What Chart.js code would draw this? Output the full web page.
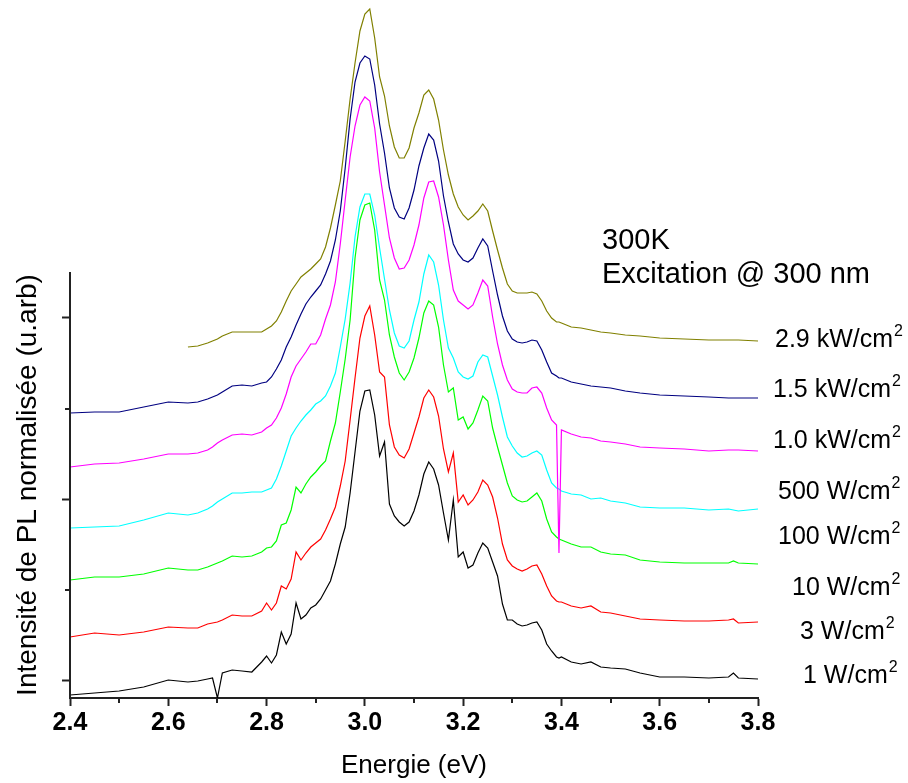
<!DOCTYPE html>
<html>
<head>
<meta charset="utf-8">
<title>PL spectra</title>
<script src="https://cdn.jsdelivr.net/npm/chart.js@4.4.1/dist/chart.umd.min.js"></script>
<style>
  html, body { margin: 0; padding: 0; background: #fff; }
  #wrap { width: 908px; height: 783px; }
</style>
</head>
<body>
<div id="wrap"><canvas id="plChart" width="908" height="783"></canvas></div>
<script>
// photon energy (eV), shared by every spectrum
const energy = [
  2.40, 2.45, 2.50, 2.55, 2.60, 2.64, 2.66, 2.68, 2.69, 2.70, 2.71, 2.73, 2.75, 2.77, 2.79,
  2.80, 2.81, 2.82, 2.83, 2.84, 2.85, 2.86, 2.87, 2.88, 2.89,
  2.90, 2.91, 2.92, 2.93, 2.94, 2.95, 2.96, 2.97, 2.98, 2.99,
  3.00, 3.01, 3.02, 3.03, 3.04, 3.05, 3.06, 3.07, 3.08, 3.09,
  3.10, 3.11, 3.12, 3.13, 3.14, 3.15, 3.16, 3.17, 3.18, 3.19,
  3.20, 3.21, 3.22, 3.23, 3.24, 3.25, 3.26, 3.27, 3.28, 3.29,
  3.30, 3.31, 3.32, 3.33, 3.34, 3.35, 3.36, 3.37, 3.38, 3.39,
  3.395, 3.40, 3.42, 3.44, 3.46, 3.48, 3.50, 3.53, 3.56, 3.60, 3.65, 3.70, 3.74, 3.75, 3.76, 3.80, 3.81
];

// normalised PL intensity (u.arb), curves stacked with their offsets
const pl1W = [
  3, 5, 7, 11, 18, 16, 17, 19, 20, 0, 25, 28, 27, 26, 36,
  42, 35, 43, 66, 54, 64, 95, 79, 83, 90,
  93, 99, 108, 117, 134, 154, 171, 205, 246, 287,
  307, 308, 283, 242, 256, 194, 182, 176, 172, 176,
  187, 203, 224, 236, 229, 213, 185, 158, 198, 141,
  146, 130, 133, 145, 155, 150, 136, 122, 94, 78,
  78, 74, 72, 73, 75, 76, 68, 54, 47, 41,
  40, 41, 36, 34, 36, 31, 30, 29, 25, 21, 21, 20, 21, 25, 20, 19, 19
];
const pl3W = [
  61, 65, 63, 66, 71, 70, 70, 74, 75, 76, 78, 83, 82, 82, 87,
  95, 88, 95, 112, 109, 119, 146, 138, 145, 151,
  155, 159, 168, 179, 191, 212, 237, 278, 320, 360,
  382, 392, 363, 326, 321, 273, 251, 243, 240, 249,
  265, 281, 300, 308, 301, 282, 249, 226, 245, 196,
  203, 193, 198, 206, 218, 213, 201, 180, 154, 138,
  132, 129, 127, 129, 132, 133, 124, 112, 102, 97,
  96, 96, 92, 90, 92, 86, 85, 82, 79, 78, 77, 77, 78, 79, 75, 76, 76
];
const pl10W = [
  118, 121, 121, 124, 130, 128, 128, 131, 133, 135, 137, 142, 141, 142, 146,
  150, 151, 157, 173, 175, 188, 211, 205, 214, 221,
  226, 232, 237, 257, 275, 306, 339, 378, 440, 478,
  493, 495, 468, 418, 398, 363, 341, 325, 318, 326,
  340, 360, 385, 397, 393, 371, 333, 306, 310, 278,
  281, 269, 275, 288, 302, 297, 270, 251, 233, 215,
  202, 198, 196, 197, 201, 205, 197, 179, 166, 161,
  159, 158, 154, 151, 151, 146, 144, 143, 138, 136, 135, 135, 135, 137, 135, 134, 134
];
const pl500W = [
  170, 171, 172, 178, 185, 183, 185, 189, 192, 196, 199, 205, 205, 206, 206,
  208, 210, 219, 232, 247, 262, 270, 277, 283, 288,
  294, 297, 302, 312, 325, 351, 379, 415, 461, 491,
  504, 504, 483, 450, 419, 388, 365, 352, 350, 357,
  378, 396, 424, 443, 436, 413, 378, 350, 340, 326,
  321, 319, 322, 336, 343, 341, 322, 303, 281, 261,
  252, 245, 241, 242, 245, 247, 243, 228, 215, 210,
  209, 207, 204, 203, 199, 200, 197, 195, 191, 190, 190, 188, 189, 188, 187, 189, 189
];
const pl1kW = [
  231, 234, 235, 239, 244, 244, 245, 248, 251, 255, 258, 263, 264, 263, 266,
  270, 273, 280, 290, 304, 321, 332, 339, 346, 354,
  354, 363, 379, 393, 416, 454, 498, 541, 572, 593,
  601, 597, 570, 526, 493, 460, 440, 429, 430, 438,
  453, 473, 500, 516, 517, 501, 473, 438, 408, 397,
  393, 389, 393, 405, 418, 412, 381, 354, 333, 318,
  309, 306, 305, 305, 310, 311, 305, 290, 278, 273,
  145, 268, 264, 261, 260, 257, 256, 254, 251, 250, 249, 247, 248, 248, 248, 247, 247
];
const pl1500W = [
  285, 286, 286, 291, 296, 295, 296, 299, 301, 303, 306, 312, 313, 312, 315,
  316, 321, 329, 338, 351, 361, 373, 384, 394, 401,
  407, 413, 424, 437, 458, 487, 530, 579, 616, 635,
  642, 639, 613, 574, 545, 510, 490, 481, 479, 490,
  508, 532, 550, 564, 558, 537, 502, 476, 454, 444,
  438, 436, 440, 450, 459, 452, 427, 403, 382, 367,
  359, 356, 355, 356, 358, 357, 348, 336, 325, 322,
  320, 320, 316, 314, 312, 311, 310, 307, 305, 303, 302, 301, 300, 300, 300, 300, 300
];
const pl2900W = [
  null, null, null, null, null, 351, 352, 355, 357, 359, 362, 366, 366, 366, 366,
  369, 372, 377, 386, 397, 407, 414, 421, 425, 429,
  434, 439, 451, 470, 493, 517, 557, 599, 635, 667,
  684, 689, 660, 621, 602, 572, 551, 540, 540, 550,
  570, 585, 603, 608, 599, 578, 548, 523, 504, 491,
  483, 478, 482, 487, 494, 487, 467, 448, 430, 414,
  407, 405, 405, 405, 406, 404, 397, 387, 380, 376,
  376, 375, 371, 370, 368, 366, 365, 363, 362, 360, 359, 358, 358, 358, 358, 357, null
];

const xMajorTicks = [2.4, 2.6, 2.8, 3.0, 3.2, 3.4, 3.6, 3.8];
const xMinorTicks = [2.5, 2.7, 2.9, 3.1, 3.3, 3.5, 3.7];
const yMajorTicks = [18, 199, 380];
const yMinorTicks = [108.5, 289.5];
const yAxisTop = 426;

const powerLabels = ['2.9 kW/cm', '1.5 kW/cm', '1.0 kW/cm', '500 W/cm', '100 W/cm', '10 W/cm', '3 W/cm', '1 W/cm'];
const noteLines = ['300K', 'Excitation @ 300 nm'];
const yTitle = 'Intensité de PL normalisée (u.arb)';

const FONT = '"Liberation Sans", Arial, sans-serif';

// label anchors (left x, baseline y) in canvas pixels
const powerLabelPos = [[775, 347], [773, 397], [773, 448], [778, 499], [778, 544], [792, 595], [800, 639], [803, 683]];
const notePos = [[602, 249], [602, 283]];

function series(values) {
  return energy.map((e, i) => ({ x: e, y: values[i] })).filter(p => p.y !== null);
}

const curves = [
  { label: '2.9 kW/cm²', values: pl2900W, color: '#808000' },
  { label: '1.5 kW/cm²', values: pl1500W, color: '#000080' },
  { label: '1.0 kW/cm²', values: pl1kW, color: '#ff00ff' },
  { label: '500 W/cm²', values: pl500W, color: '#00ffff' },
  { label: '10 W/cm²', values: pl10W, color: '#00ff00' },
  { label: '3 W/cm²', values: pl3W, color: '#ff0000' },
  { label: '1 W/cm²', values: pl1W, color: '#000000' }
];

const decorations = {
  id: 'decorations',
  afterDraw(chart) {
    const ctx = chart.ctx;
    const x = chart.scales.x, y = chart.scales.y;
    ctx.save();
    ctx.strokeStyle = '#222';
    ctx.lineWidth = 2;
    // left axis line, only over the lower part
    const ax = x.left;
    ctx.beginPath();
    ctx.moveTo(ax, y.getPixelForValue(0) + 1);
    ctx.lineTo(ax, y.getPixelForValue(yAxisTop));
    ctx.stroke();
    // minor ticks
    ctx.beginPath();
    xMinorTicks.forEach(v => {
      const px = Math.round(x.getPixelForValue(v));
      ctx.moveTo(px, y.bottom);
      ctx.lineTo(px, y.bottom + 5);
    });
    yMinorTicks.forEach(v => {
      const py = Math.round(y.getPixelForValue(v));
      ctx.moveTo(ax, py);
      ctx.lineTo(ax - 5, py);
    });
    ctx.stroke();

    ctx.fillStyle = '#000';
    // y title
    ctx.save();
    ctx.translate(36, 485);
    ctx.rotate(-Math.PI / 2);
    ctx.textAlign = 'center';
    ctx.textBaseline = 'alphabetic';
    ctx.font = '28px ' + FONT;
    ctx.fillText(yTitle, 0, 0);
    ctx.restore();

    ctx.textAlign = 'left';
    ctx.textBaseline = 'alphabetic';
    ctx.font = '29px ' + FONT;
    noteLines.forEach((t, i) => ctx.fillText(t, notePos[i][0], notePos[i][1]));

    powerLabels.forEach((t, i) => {
      const [lx, by] = powerLabelPos[i];
      ctx.font = '25px ' + FONT;
      ctx.fillText(t, lx, by);
      const w = ctx.measureText(t).width;
      ctx.font = '16px ' + FONT;
      ctx.fillText('2', lx + w + 1, by - 11);
    });
    ctx.restore();
  }
};

new Chart(document.getElementById('plChart'), {
  type: 'line',
  data: {
    datasets: curves.map(c => ({
      label: c.label,
      data: series(c.values),
      borderColor: c.color,
      backgroundColor: c.color,
      borderWidth: 1.2,
      pointRadius: 0,
      tension: 0,
      fill: false,
      clip: false
    }))
  },
  options: {
    responsive: false,
    animation: false,
    devicePixelRatio: 1,
    layout: { padding: { top: 2, right: 150, left: 0, bottom: 0 } },
    plugins: { legend: { display: false }, tooltip: { enabled: false } },
    scales: {
      x: {
        type: 'linear',
        min: 2.4,
        max: 3.8,
        afterFit: s => { s.height = 85; },
        afterBuildTicks: s => { s.ticks = xMajorTicks.map(v => ({ value: v })); },
        ticks: {
          color: '#000',
          padding: 2,
          maxRotation: 0,
          autoSkip: false,
          font: { family: FONT, size: 25, weight: 'bold' },
          callback: v => v.toFixed(1)
        },
        grid: { drawOnChartArea: false, drawTicks: true, tickLength: 8, tickColor: '#222', tickWidth: 2 },
        border: { display: true, color: '#222', width: 2 },
        title: {
          display: true,
          text: 'Energie (eV)',
          color: '#000',
          font: { family: FONT, size: 26 },
          padding: { top: 0, bottom: 2 }
        }
      },
      y: {
        type: 'linear',
        min: 0,
        max: 696,
        afterFit: s => { s.width = 70; },
        afterBuildTicks: s => { s.ticks = yMajorTicks.map(v => ({ value: v })); },
        ticks: { display: false },
        grid: { drawOnChartArea: false, drawTicks: true, tickLength: 8, tickColor: '#222', tickWidth: 2 },
        border: { display: false }
      }
    }
  },
  plugins: [decorations]
});
</script>
</body>
</html>
